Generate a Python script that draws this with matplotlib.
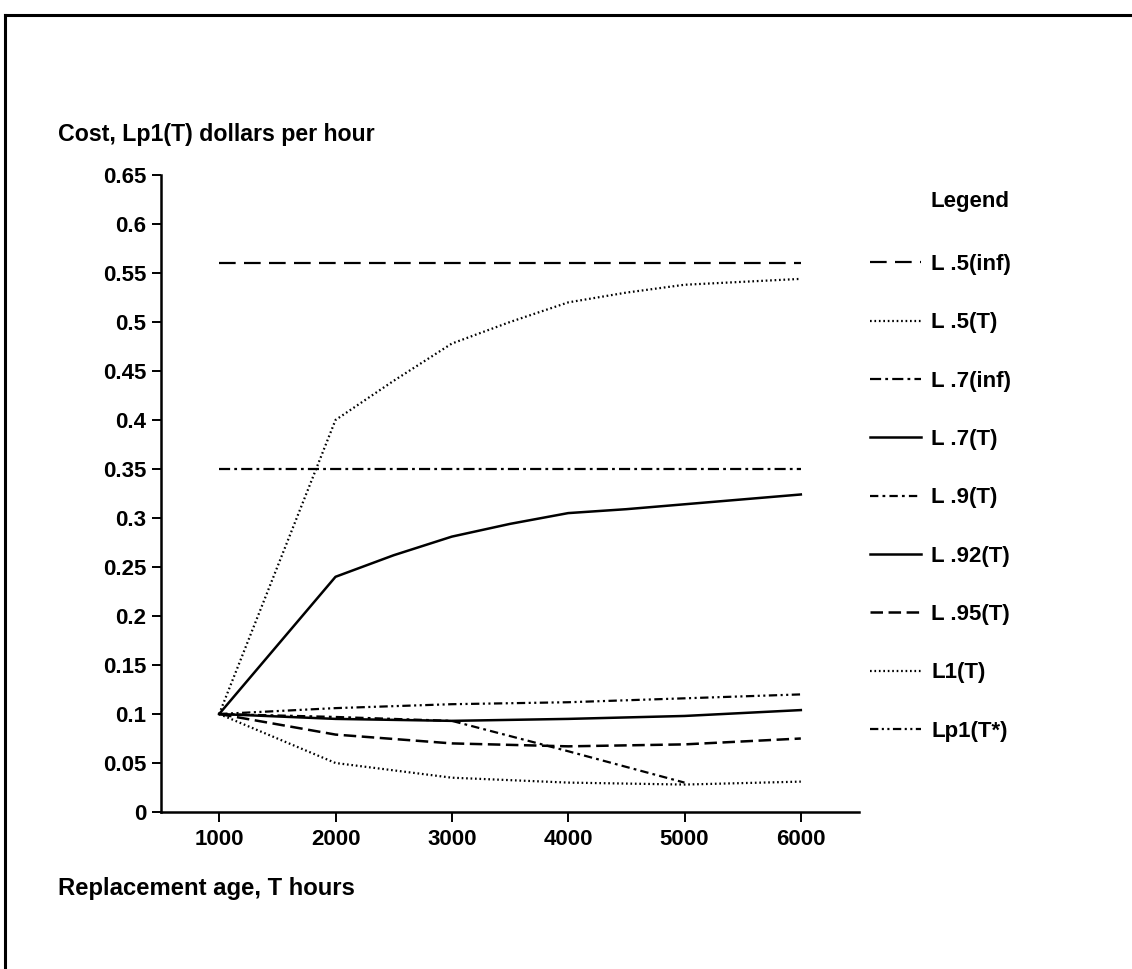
"""Replacement-age cost curves, Lp1(T) dollars per hour."""

import matplotlib

matplotlib.use("Agg")
import matplotlib.pyplot as plt
from matplotlib import font_manager
from matplotlib.lines import Line2D
from matplotlib.ticker import FuncFormatter

# replacement age, hours
T_HOURS = [1000, 2000, 3000, 4000, 5000, 6000]
T_HOURS_FINE = [1000, 2000, 2500, 3000, 3500, 4000, 4500, 5000, 5500, 6000]
T_HOURS_L09 = [1000, 2000, 3000, 4000, 5000]

# cost, dollars per hour
L05_INF = [0.56, 0.56, 0.56, 0.56, 0.56, 0.56]
L05_T = [0.10, 0.40, 0.44, 0.478, 0.50, 0.52, 0.53, 0.538, 0.541, 0.544]
L07_INF = [0.35, 0.35, 0.35, 0.35, 0.35, 0.35]
L07_T = [0.10, 0.24, 0.262, 0.281, 0.294, 0.305, 0.309, 0.314, 0.319, 0.324]
L09_T = [0.10, 0.097, 0.093, 0.062, 0.030]
L092_T = [0.10, 0.095, 0.093, 0.095, 0.098, 0.104]
L095_T = [0.10, 0.079, 0.070, 0.067, 0.069, 0.075]
L1_T = [0.10, 0.050, 0.035, 0.030, 0.028, 0.031]
LP1_TSTAR = [0.10, 0.106, 0.110, 0.112, 0.116, 0.120]

LABELS = ["L .5(inf)", "L .5(T)", "L .7(inf)", "L .7(T)", "L .9(T)",
          "L .92(T)", "L .95(T)", "L1(T)", "Lp1(T*)"]
Y_TICKS = [0, 0.05, 0.1, 0.15, 0.2, 0.25, 0.3, 0.35, 0.4, 0.45, 0.5, 0.55, 0.6, 0.65]


def _font_family():
    names = {f.name for f in font_manager.fontManager.ttflist}
    if "Liberation Sans Narrow" in names:
        return ["Liberation Sans Narrow", "DejaVu Sans"], 18
    return ["Liberation Sans", "DejaVu Sans"], 16


def main():
    family, fs = _font_family()
    plt.rcParams["font.family"] = family
    plt.rcParams["font.weight"] = "bold"
    plt.rcParams["font.size"] = fs
    plt.rcParams["lines.scale_dashes"] = False

    W, H = 1132, 969
    fig = plt.figure(figsize=(W / 100, H / 100), dpi=100)
    ax = fig.add_axes([161 / W, 1 - 812 / H, (859 - 161) / W, (812 - 175) / H])

    series = [
        (T_HOURS, L05_INF, (0, (12, 6)), 1.6),
        (T_HOURS_FINE, L05_T, (0, (1.2, 2)), 1.6),
        (T_HOURS, L07_INF, (0, (8, 3, 2, 3)), 1.6),
        (T_HOURS_FINE, L07_T, "-", 1.8),
        (T_HOURS_L09, L09_T, (0, (6, 3, 2, 3)), 1.6),
        (T_HOURS, L092_T, "-", 1.8),
        (T_HOURS, L095_T, (0, (9, 4)), 1.8),
        (T_HOURS, L1_T, (0, (1.2, 2)), 1.6),
        (T_HOURS, LP1_TSTAR, (0, (6, 2.5, 1.5, 2.5, 1.5, 2.5)), 1.6),
    ]
    for (x, y, ls, lw), lab in zip(series, LABELS):
        ax.plot(x, y, color="black", ls=ls, lw=lw, label=lab)

    ax.set_xlim(500, 6500)
    ax.set_ylim(0, 0.65)
    ax.set_xticks(T_HOURS)
    ax.set_yticks(Y_TICKS)
    ax.yaxis.set_major_formatter(FuncFormatter(lambda v, _: f"{v:g}"))
    for side in ("top", "right"):
        ax.spines[side].set_visible(False)
    for side in ("left", "bottom"):
        ax.spines[side].set_linewidth(1.8)
    ax.tick_params(axis="both", direction="out", width=1.4, colors="black")
    ax.tick_params(axis="y", length=6.5, pad=4)
    ax.tick_params(axis="x", length=7, pad=5)

    fig.text(58 / W, 1 - 135 / H, "Cost, Lp1(T) dollars per hour", va="center", ha="left",
             fontsize=fs + 0.7)
    fig.text(58 / W, 1 - 888 / H, "Replacement age, T hours", va="center", ha="left",
             fontsize=fs + 1.2)
    fig.text(930 / W, 1 - 202 / H, "Legend", va="center", ha="left")

    fig.legend(loc="upper left", bbox_to_anchor=(870 / W, 1 - 254 / H),
               frameon=False, handlelength=2.3, handletextpad=0.45,
               labelspacing=1.68, borderpad=0, borderaxespad=0)

    # scanned page frame: top and left edges
    fig.add_artist(Line2D([5 / W, 1], [1 - 15 / H, 1 - 15 / H], transform=fig.transFigure,
                          color="black", lw=2.2))
    fig.add_artist(Line2D([5 / W, 5 / W], [0, 1 - 15 / H], transform=fig.transFigure,
                          color="black", lw=2.2))

    fig.savefig("out.png", dpi=100)
    plt.close(fig)


if __name__ == "__main__":
    main()
